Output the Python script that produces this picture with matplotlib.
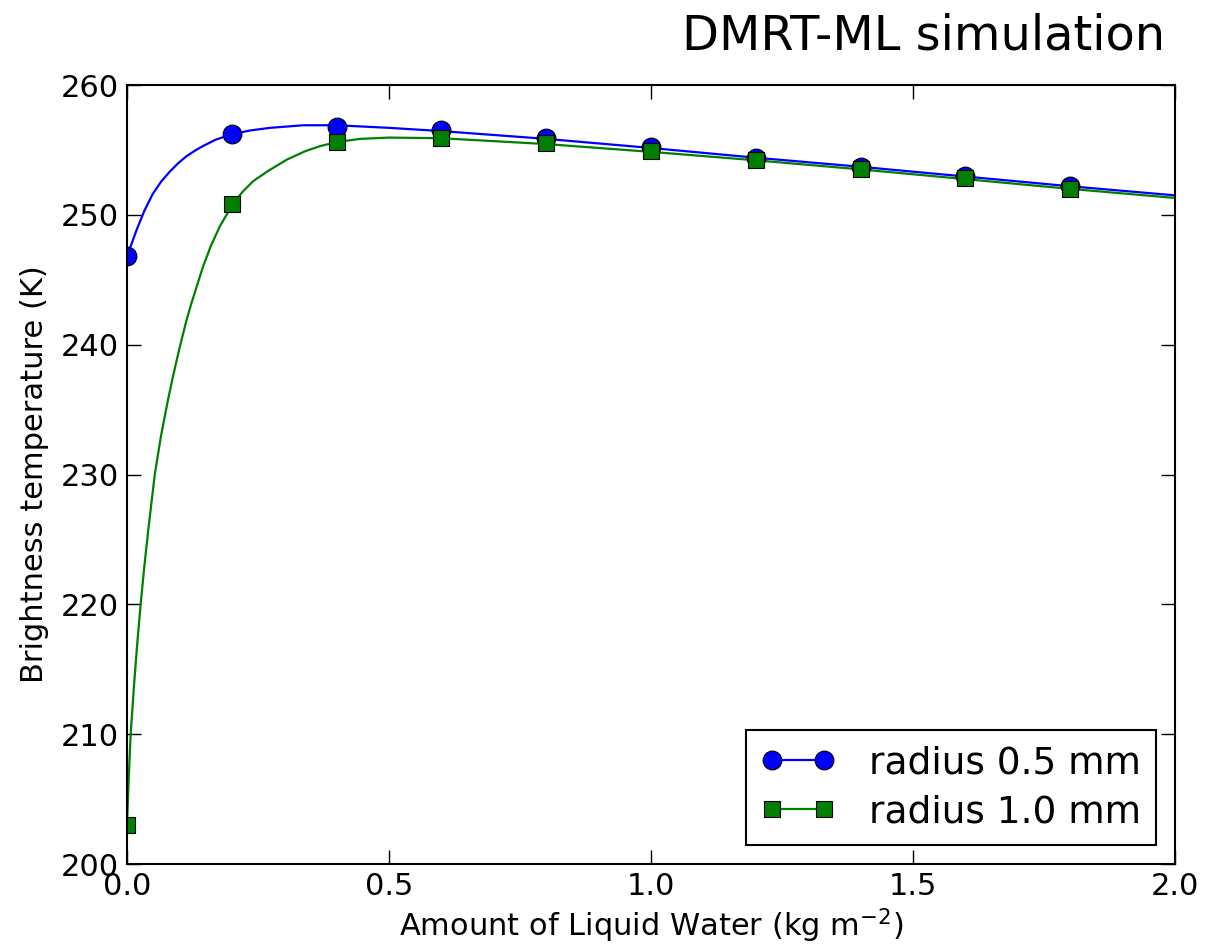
import matplotlib
matplotlib.use("Agg")
import matplotlib.pyplot as plt
from matplotlib.lines import Line2D

# simulated points (markers)
x_pts = [0.0, 0.2, 0.4, 0.6, 0.8, 1.0, 1.2, 1.4, 1.6, 1.8]
tb_r05 = [246.8, 256.2, 256.8, 256.5, 255.9, 255.2, 254.4, 253.7, 253.0, 252.2]
tb_r10 = [203.0, 250.8, 255.6, 255.9, 255.5, 254.9, 254.2, 253.5, 252.8, 252.0]

# smooth curves
x_c05 = [0.0, 0.009, 0.018, 0.033, 0.049, 0.065, 0.081, 0.097, 0.113, 0.13, 0.145,
         0.17, 0.2, 0.235, 0.273, 0.337, 0.4, 0.5, 0.6, 0.8, 1.0, 1.2, 1.4,
         1.6, 1.8, 2.0]
y_c05 = [246.8, 247.8, 248.8, 250.3, 251.6, 252.55, 253.3, 253.95, 254.5, 254.95, 255.3,
         255.8, 256.2, 256.5, 256.7, 256.9, 256.9, 256.7, 256.45, 255.85, 255.15, 254.4, 253.7,
         252.95, 252.2, 251.5]

x_c10 = [0.0, 0.0035, 0.007, 0.014, 0.02, 0.026, 0.033, 0.04, 0.046, 0.053, 0.065,
         0.078, 0.088, 0.1, 0.113, 0.123, 0.145, 0.16, 0.177, 0.2, 0.22, 0.241,
         0.27, 0.305, 0.34, 0.369, 0.4, 0.445, 0.5, 0.6, 0.8, 1.0, 1.2, 1.4,
         1.6, 1.8, 2.0]
y_c10 = [203.0, 206.8, 210.0, 214.1, 217.2, 220.0, 222.9, 225.5, 227.6, 230.0, 233.0,
         235.7, 237.6, 239.7, 241.8, 243.2, 246.0, 247.6, 249.1, 250.7, 251.75, 252.6,
         253.4, 254.25, 254.9, 255.3, 255.6, 255.85, 255.95, 255.9, 255.45, 254.85, 254.2, 253.5,
         252.75, 252.0, 251.3]

blue = "#0000ff"
green = "#008000"

fig = plt.figure(figsize=(12.1, 9.5), dpi=100)
ax = fig.add_axes([127 / 1210, 86 / 950, 1048 / 1210, 779 / 950])

ax.plot(x_c05, y_c05, color=blue, lw=1.6)
ax.plot(x_c10, y_c10, color=green, lw=1.6)
ax.plot(x_pts, tb_r05, ls="none", marker="o", ms=13.5, mfc=blue, mec="black", mew=0.8)
ax.plot(x_pts, tb_r10, ls="none", marker="s", ms=12, mfc=green, mec="black", mew=0.8)

ax.set_xlim(0, 2.0)
ax.set_ylim(200, 260)
ax.set_xticks([0.0, 0.5, 1.0, 1.5, 2.0])
ax.set_yticks([200, 210, 220, 230, 240, 250, 260])
ax.tick_params(direction="in", length=10, width=1, top=True, right=True,
               labelsize=22, pad=6)
for s in ax.spines.values():
    s.set_linewidth(1.5)

ax.set_xlabel("Amount of Liquid Water (kg m$^{-2}$)", fontsize=22, labelpad=4)
ax.set_ylabel("Brightness temperature (K)", fontsize=22, labelpad=8)

handles = [
    Line2D([], [], color=blue, lw=1.6, marker="o", ms=13.5, mfc=blue, mec="black", mew=0.8),
    Line2D([], [], color=green, lw=1.6, marker="s", ms=12, mfc=green, mec="black", mew=0.8),
]
leg = ax.legend(handles, ["radius 0.5 mm", "radius 1.0 mm"], loc="lower right",
                numpoints=2, fontsize=27, fancybox=False, framealpha=1,
                edgecolor="black", handlelength=2.0, borderpad=0.4, labelspacing=0.35,
                handletextpad=0.9)
leg.get_frame().set_linewidth(1.5)

fig.text(1165 / 1210, 1 - 50 / 950, "DMRT-ML simulation", fontsize=34.5,
         ha="right", va="baseline")

fig.savefig("out.png", dpi=100)
